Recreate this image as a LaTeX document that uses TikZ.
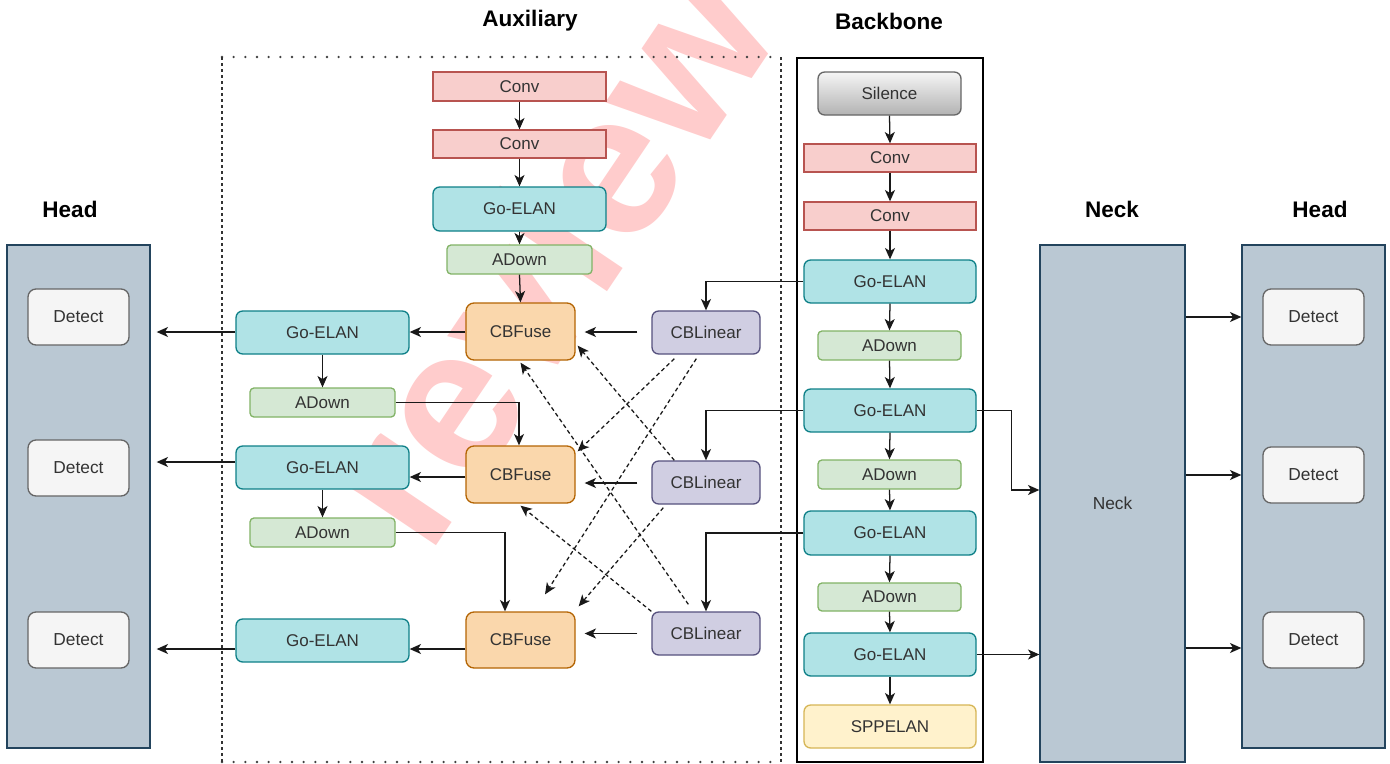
\documentclass[tikz,border=0pt]{standalone}
\usepackage{fontspec}
\setmainfont{Liberation Sans}
\usetikzlibrary{arrows.meta,calc}

% one drawing unit = one pixel of the 1390 x 764 canvas
\newdimen\pxu \pxu=0.75pt

\definecolor{txt}{HTML}{333333}
\definecolor{convF}{HTML}{F8CECC}\definecolor{convD}{HTML}{B85450}
\definecolor{elanF}{HTML}{B0E3E6}\definecolor{elanD}{HTML}{0E8088}
\definecolor{downF}{HTML}{D5E8D4}\definecolor{downD}{HTML}{82B366}
\definecolor{fuseF}{HTML}{FAD7AC}\definecolor{fuseD}{HTML}{B46504}
\definecolor{linF}{HTML}{D0CEE2}\definecolor{linD}{HTML}{56517E}
\definecolor{sppF}{HTML}{FFF2CC}\definecolor{sppD}{HTML}{D6B656}
\definecolor{detF}{HTML}{F5F5F5}\definecolor{detD}{HTML}{666666}
\definecolor{panF}{HTML}{BAC8D3}\definecolor{panD}{HTML}{23445D}
\definecolor{mark}{RGB}{255,204,204}

% block from its corner coordinates: name, style, x1, y1, x2, y2, label
\newcommand\blk[7]{%
  \pgfmathsetmacro\bcx{(#3+#5)/2}\pgfmathsetmacro\bcy{(#4+#6)/2}%
  \pgfmathsetmacro\bw{#5-#3}\pgfmathsetmacro\bh{#6-#4}%
  \node[#2, minimum width=\bw\pxu, minimum height=\bh\pxu] (#1) at (\bcx,\bcy) {#7};}

\tikzset{
  base/.style={inner sep=0pt, line width=1pt, text=txt,
    font=\fontsize{12.75pt}{15pt}\selectfont},
  conv/.style={base, fill=convF, draw=convD},
  elan/.style={base, fill=elanF, draw=elanD, rounded corners=5pt},
  adown/.style={base, fill=downF, draw=downD, rounded corners=3pt},
  fuse/.style={base, fill=fuseF, draw=fuseD, rounded corners=6pt},
  linear/.style={base, fill=linF, draw=linD, rounded corners=5pt},
  spp/.style={base, fill=sppF, draw=sppD, rounded corners=5pt},
  silence/.style={base, top color=detF, bottom color=black!30, draw=detD, rounded corners=5pt},
  detect/.style={base, fill=detF, draw=detD, rounded corners=6pt,
    font=\fontsize{13pt}{15pt}\selectfont},
  panel/.style={base, fill=panF, draw=panD, font=\fontsize{13pt}{15pt}\selectfont},
  heading/.style={inner sep=0pt, text=black, font=\fontsize{16.9pt}{20pt}\selectfont\bfseries},
  arr/.style={draw=black!90, line width=0.95pt, -{Stealth[length=8.5pt,width=7.5pt,inset=2.3pt]}},
  darr/.style={arr, dash pattern=on 3pt off 2.2pt},
}

\begin{document}
\begin{tikzpicture}[x=0.75pt, y=-0.75pt]
\useasboundingbox (0,0) rectangle (1390,764);
\fill[white] (0,0) rectangle (1390,764);

% watermark behind everything
\node[text=mark, inner sep=0pt, anchor=base west, rotate=56,
  font=\fontsize{153pt}{160pt}\selectfont\bfseries] (wm) at (428.6,557.3) {review};

% headings
\node[heading] (hAux) at (530,21) {Auxiliary};
\node[heading] (hBack) at (889,21) {Backbone};
\node[heading] (hHeadL) at (70,209) {Head};
\node[heading] (hNeck) at (1112,209) {Neck};
\node[heading] (hHeadR) at (1320,209) {Head};

% auxiliary frame: dotted top and bottom, fine dashes at the sides
\draw[line width=1.9pt, line cap=round, dash pattern=on 0pt off 8.75pt, black!75]
  (222,57) -- (781,57) (222,762) -- (781,762);
\draw[line width=0.9pt, dash pattern=on 2.2pt off 2.3pt, black!80]
  (222,57) -- (222,762) (781,57) -- (781,762);

% backbone frame
\draw[line width=0.9pt, black] (797,58) rectangle (983,762);

% side panels
\blk{hl}{panel}{7}{245}{150}{748}{}
\blk{neck}{panel}{1040}{245}{1185}{762}{Neck}
\blk{hr}{panel}{1242}{245}{1385}{748}{}
\blk{dl1}{detect}{28}{289}{129}{345}{Detect}
\blk{dl2}{detect}{28}{440}{129}{496}{Detect}
\blk{dl3}{detect}{28}{612}{129}{668}{Detect}
\blk{dr1}{detect}{1263}{289}{1364}{345}{Detect}
\blk{dr2}{detect}{1263}{447}{1364}{503}{Detect}
\blk{dr3}{detect}{1263}{612}{1364}{668}{Detect}

% auxiliary branch
\blk{ac1}{conv}{433}{72}{606}{101}{Conv}
\blk{ac2}{conv}{433}{130}{606}{158}{Conv}
\blk{ag}{elan}{433}{187}{606}{231}{Go-ELAN}
\blk{aad}{adown}{447}{245}{592}{274}{ADown}
\blk{fu1}{fuse}{466}{303}{575}{360}{CBFuse}
\blk{fu2}{fuse}{466}{446}{575}{503}{CBFuse}
\blk{fu3}{fuse}{466}{612}{575}{668}{CBFuse}
\blk{cl1}{linear}{652}{311}{760}{354}{CBLinear}
\blk{cl2}{linear}{652}{461}{760}{504}{CBLinear}
\blk{cl3}{linear}{652}{612}{760}{655}{CBLinear}
\blk{gl1}{elan}{236}{311}{409}{354}{Go-ELAN}
\blk{al1}{adown}{250}{388}{395}{417}{ADown}
\blk{gl2}{elan}{236}{446}{409}{489}{Go-ELAN}
\blk{al2}{adown}{250}{518}{395}{547}{ADown}
\blk{gl3}{elan}{236}{619}{409}{662}{Go-ELAN}

% backbone
\blk{sil}{silence}{818}{72}{961}{115}{Silence}
\blk{bc1}{conv}{804}{144}{976}{172}{Conv}
\blk{bc2}{conv}{804}{202}{976}{230}{Conv}
\blk{bg1}{elan}{804}{260}{976}{303}{Go-ELAN}
\blk{bd1}{adown}{818}{331}{961}{360}{ADown}
\blk{bg2}{elan}{804}{389}{976}{432}{Go-ELAN}
\blk{bd2}{adown}{818}{460}{961}{489}{ADown}
\blk{bg3}{elan}{804}{511}{976}{555}{Go-ELAN}
\blk{bd3}{adown}{818}{583}{961}{611}{ADown}
\blk{bg4}{elan}{804}{633}{976}{676}{Go-ELAN}
\blk{spp}{spp}{804}{705}{976}{748}{SPPELAN}

% backbone chain
\foreach \a/\b in {sil/bc1, bc1/bc2, bc2/bg1, bg1/bd1, bd1/bg2, bg2/bd2,
                   bd2/bg3, bg3/bd3, bd3/bg4, bg4/spp}
  \draw[arr] (\a.south) -- (\b.north);

% auxiliary chain
\foreach \a/\b in {ac1/ac2, ac2/ag, ag/aad, aad/fu1, gl1/al1, gl2/al2}
  \draw[arr] (\a.south) -- (\b.north);

% backbone taps into CBLinear
\draw[arr] (bg1.west) -| (cl1.north);
\draw[arr] (bg2.west) -| (cl2.north);
\draw[arr] (bg3.west) -| (cl3.north);

% CBLinear -> CBFuse
\draw[arr, shorten <=14\pxu, shorten >=9\pxu] ([yshift=0.5\pxu]cl1.west) -- ([yshift=0.5\pxu]cl1.west -| fu1.east);
\draw[arr, shorten <=14\pxu, shorten >=9\pxu] ([yshift=-0.5\pxu]cl2.west) -- ([yshift=-0.5\pxu]cl2.west -| fu2.east);
\draw[arr, shorten <=14\pxu, shorten >=9\pxu] (cl3.west) -- (cl3.west -| fu3.east);

% CBFuse -> Go-ELAN
\draw[arr] ([yshift=-0.5\pxu]fu1.west) -- ([yshift=-0.5\pxu]fu1.west -| gl1.east);
\draw[arr] ([yshift=-2.5\pxu]fu2.west) -- ([yshift=-2.5\pxu]fu2.west -| gl2.east);
\draw[arr] ([yshift=-9\pxu]fu3.west) -- ([yshift=-9\pxu]fu3.west -| gl3.east);

% ADown -> next CBFuse
\draw[arr] (al1.east) -| ([xshift=-1.5\pxu]fu2.north);
\draw[arr] (al2.east) -| ([xshift=-15.5\pxu]fu3.north);

% Go-ELAN -> left head
\draw[arr, shorten >=6\pxu] ([yshift=0.5\pxu]gl1.west) -- ([yshift=0.5\pxu]gl1.west -| hl.east);
\draw[arr, shorten >=6\pxu] ([yshift=5.5\pxu]gl2.west) -- ([yshift=5.5\pxu]gl2.west -| hl.east);
\draw[arr, shorten >=6\pxu] ([yshift=-8.5\pxu]gl3.west) -- ([yshift=-8.5\pxu]gl3.west -| hl.east);

% cross links between CBLinear and CBFuse
\draw[darr] ([xshift=23\pxu,yshift=-4\pxu]cl1.south west) -- ([xshift=2\pxu,yshift=-6\pxu]fu2.north east);
\draw[darr] ([xshift=45\pxu,yshift=-4\pxu]cl1.south west) -- ([xshift=24.5\pxu,yshift=17\pxu]fu3.north);
\draw[darr] ([xshift=23\pxu]cl2.north west) -- ([xshift=2\pxu,yshift=15\pxu]fu1.south east);
\draw[darr] ([xshift=37\pxu,yshift=7\pxu]cl3.north west) -- ([yshift=-2\pxu]fu1.south);
\draw[darr] ([xshift=12\pxu,yshift=-3\pxu]cl2.south west) -- ([xshift=3\pxu,yshift=5\pxu]fu3.north east);
\draw[darr] (cl3.north west) -- ([yshift=-2\pxu]fu2.south);

% backbone -> neck
\draw[arr] (bg2.east) -| ([xshift=-28\pxu,yshift=13.5\pxu]neck.west) -- ([yshift=13.5\pxu]neck.west);
\draw[arr] (bg4.east) -- (bg4.east -| neck.west);

% neck -> right head
\draw[arr] (neck.east |- dr1) -- (hr.west |- dr1);
\draw[arr] (neck.east |- dr2) -- (hr.west |- dr2);
\draw[arr] ([yshift=-8\pxu]neck.east |- dr3) -- ([yshift=-8\pxu]hr.west |- dr3);
\end{tikzpicture}
\end{document}
